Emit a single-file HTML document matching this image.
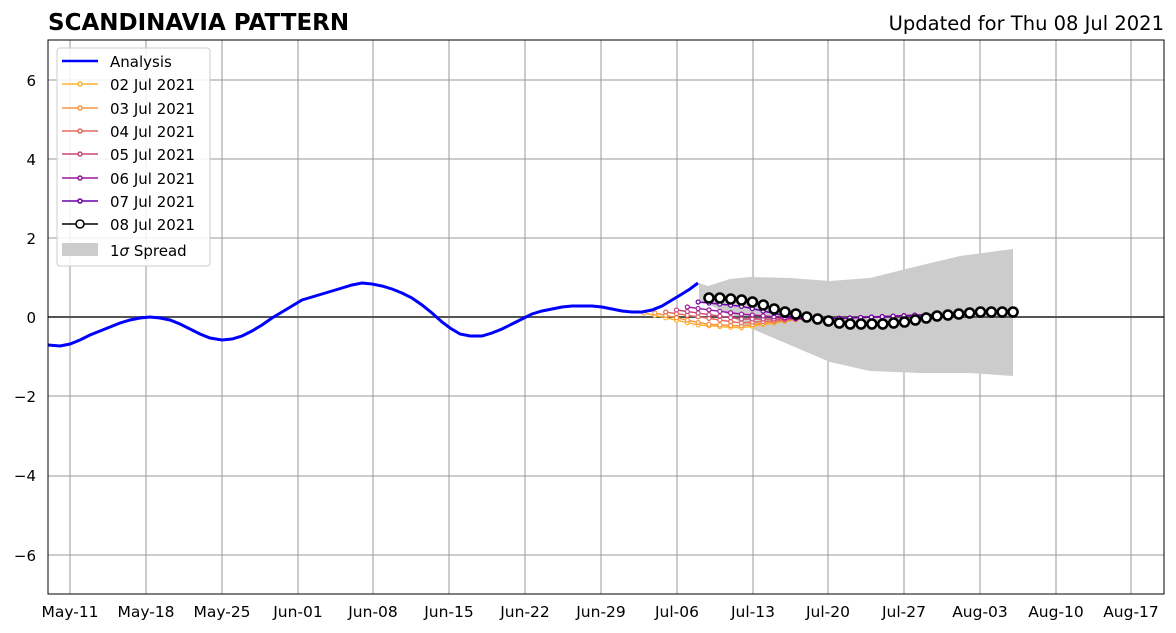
<!DOCTYPE html>
<html><head><meta charset="utf-8"><style>
body{margin:0;background:#fff;width:1176px;height:633px;overflow:hidden}
svg{display:block;font-family:"DejaVu Sans","Liberation Sans",sans-serif}
</style></head><body>
<svg id="s" width="1176" height="633" xmlns="http://www.w3.org/2000/svg">
<rect width="1176" height="633" fill="#fff"/>
<text x="48" y="30" font-size="23" font-weight="bold">SCANDINAVIA PATTERN</text>
<text x="1164" y="30" font-size="19.5" text-anchor="end">Updated for Thu 08 Jul 2021</text>
<g id="grid" stroke="#999" stroke-width="1"></g>
<g id="data"></g>
<rect x="48" y="40" width="1116" height="554" fill="none" stroke="#000" stroke-width="1"/>
<g font-size="15" text-anchor="end">
<text x="36" y="86">6</text><text x="36" y="165">4</text><text x="36" y="244">2</text><text x="36" y="323">0</text>
<text x="36" y="402">−2</text><text x="36" y="481">−4</text><text x="36" y="561">−6</text>
</g>
<g font-size="15.5" text-anchor="middle">
<text x="70" y="617">May-11</text><text x="146" y="617">May-18</text><text x="222" y="617">May-25</text>
<text x="298" y="617">Jun-01</text><text x="373" y="617">Jun-08</text><text x="449" y="617">Jun-15</text>
<text x="525" y="617">Jun-22</text><text x="601" y="617">Jun-29</text><text x="677" y="617">Jul-06</text>
<text x="753" y="617">Jul-13</text><text x="828" y="617">Jul-20</text><text x="904" y="617">Jul-27</text>
<text x="980" y="617">Aug-03</text><text x="1056" y="617">Aug-10</text><text x="1131" y="617">Aug-17</text>
</g>
<g>
<rect x="57" y="48" width="153" height="218" rx="3" fill="#fff" fill-opacity="0.85" stroke="#ccc"/>
<g stroke-width="1.5">
<line x1="62" y1="61" x2="98" y2="61" stroke="#0000ff" stroke-width="2.5"/>
<line x1="62" y1="84" x2="98" y2="84" stroke="#fdb42f"/><circle cx="80" cy="84" r="2" fill="#fff" stroke="#fdb42f"/>
<line x1="62" y1="108" x2="98" y2="108" stroke="#f89540"/><circle cx="80" cy="108" r="2" fill="#fff" stroke="#f89540"/>
<line x1="62" y1="131" x2="98" y2="131" stroke="#e66c5c"/><circle cx="80" cy="131" r="2" fill="#fff" stroke="#e66c5c"/>
<line x1="62" y1="154" x2="98" y2="154" stroke="#cc4778"/><circle cx="80" cy="154" r="2" fill="#fff" stroke="#cc4778"/>
<line x1="62" y1="178" x2="98" y2="178" stroke="#9c179e"/><circle cx="80" cy="178" r="2" fill="#fff" stroke="#9c179e"/>
<line x1="62" y1="201" x2="98" y2="201" stroke="#6a00a8"/><circle cx="80" cy="201" r="2" fill="#fff" stroke="#6a00a8"/>
<line x1="62" y1="224" x2="98" y2="224" stroke="#000"/><circle cx="80" cy="224" r="4" fill="#fff" stroke="#000"/>
</g>
<rect x="62" y="243" width="36" height="13" fill="#ccc"/>
<g font-size="15">
<text x="110" y="67">Analysis</text><text x="110" y="90">02 Jul 2021</text><text x="110" y="114">03 Jul 2021</text>
<text x="110" y="137">04 Jul 2021</text><text x="110" y="160">05 Jul 2021</text><text x="110" y="184">06 Jul 2021</text>
<text x="110" y="207">07 Jul 2021</text><text x="110" y="230">08 Jul 2021</text><text x="110" y="256">1<tspan font-style="italic">σ</tspan> Spread</text>
</g>
</g>
</svg>
<script>
var NS="http://www.w3.org/2000/svg";
function el(p,t,a){var e=document.createElementNS(NS,t);for(var k in a)e.setAttribute(k,a[k]);p.appendChild(e);return e;}
var g=document.getElementById('grid'),d=document.getElementById('data');
[70,146,222,298,373,449,525,601,677,753,828,904,980,1056,1131].forEach(function(x){el(g,'line',{x1:x,y1:40,x2:x,y2:594});});
[80,159,238,317,396,476,555].forEach(function(y){el(g,'line',{x1:48,y1:y,x2:1164,y2:y});});
var up=[[699,283],[708,286],[730,279],[750,277],[790,278],[830,281],[870,278],[910,268],[960,256],[1013,249]];
var lo=[[1013,376],[970,373],[920,373],[870,371],[830,362],[790,345],[750,328],[720,310],[699,300]];
el(d,'path',{d:'M'+up.concat(lo).map(function(p){return p.join(',')}).join(' L')+'Z',fill:'#ccc'});
el(d,'line',{x1:48,y1:317,x2:1164,y2:317,stroke:'#555','stroke-width':2});
var an=[[48,345],[60,346],[70,344],[80,340],[90,335],[100,331],[110,327],[120,323],[130,320],[140,318],[150,317],[160,318],[170,320],[180,324],[190,329],[200,334],[210,338],[222,340],[232,339],[242,336],[252,331],[262,325],[272,318],[282,312],[292,306],[302,300],[312,297],[322,294],[332,291],[342,288],[352,285],[362,283],[372,284],[382,286],[392,289],[402,293],[412,298],[422,305],[432,313],[442,322],[450,328],[460,334],[470,336],[482,336],[492,333],[502,329],[512,324],[522,319],[532,314],[542,311],[552,309],[562,307],[572,306],[582,306],[592,306],[602,307],[612,309],[622,311],[632,312],[642,312],[652,310],[662,306],[672,300],[682,294],[690,289],[698,283]];
var cols=['#fdb42f','#f89540','#e66c5c','#cc4778','#9c179e','#6a00a8'];
var st=[313,313,312,310,307,302], y740=[328,326,323,319,314,306];
function interp(cp,x){for(var i=0;i<cp.length-1;i++){if(x<=cp[i+1][0]){var a=cp[i],b=cp[i+1];return a[1]+(b[1]-a[1])*(x-a[0])/(b[0]-a[0]);}}return cp[cp.length-1][1];}
for(var k=0;k<6;k++){
  var pts=[],x0=644+k*10.83;
  var cp=[[x0,st[k]]];
  if(k==0)cp.push([698,325]);
  if(k==1)cp.push([705,324]);
  cp.push([740,y740[k]],[800,319],[850,318],[945,314]);
  for(var t=0;t<28-k;t++){var x=x0+t*10.83;pts.push([x,interp(cp,x)]);}
  el(d,'polyline',{points:pts.map(function(p){return p.join(',')}).join(' '),fill:'none',stroke:cols[k],'stroke-width':1.5});
  pts.forEach(function(p){el(d,'circle',{cx:p[0],cy:p[1],r:2,fill:'#fff',stroke:cols[k],'stroke-width':1.2});});
}
el(d,'polyline',{points:an.map(function(p){return p.join(',')}).join(' '),fill:'none',stroke:'#0000ff','stroke-width':3});
var fy=[298,298,299,300,302,305,309,312,314,317,319,321,323,324,324,324,324,323,322,320,318,316,315,314,313,312,312,312,312];
var fp=fy.map(function(y,i){return [709+i*10.86,y];});
el(d,'polyline',{points:fp.map(function(p){return p.join(',')}).join(' '),fill:'none',stroke:'#000','stroke-width':1.5});
fp.forEach(function(p){el(d,'circle',{cx:p[0],cy:p[1],r:4.5,fill:'#fff',stroke:'#000','stroke-width':2.5});});
</script>
</body></html>
